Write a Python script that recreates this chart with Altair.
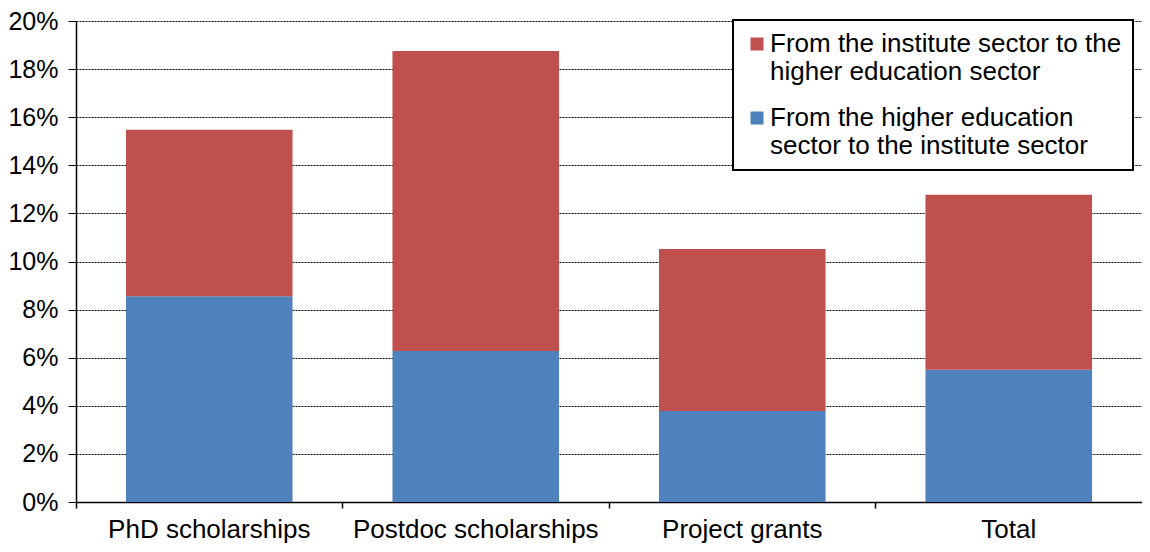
import altair as alt
import pandas as pd

categories = ["PhD scholarships", "Postdoc scholarships", "Project grants", "Total"]
series = [
    "From the institute sector to the higher education sector",
    "From the higher education sector to the institute sector",
]
# percent values
higher_to_institute = [8.55, 6.28, 3.78, 5.50]
institute_to_higher = [6.93, 12.47, 6.74, 7.28]
y_ticks = [0, 0.02, 0.04, 0.06, 0.08, 0.10, 0.12, 0.14, 0.16, 0.18, 0.20]
colors = ["#C0504D", "#4F81BD"]

rows = []
for c, b, r in zip(categories, higher_to_institute, institute_to_higher):
    rows.append({"category": c, "series": series[1], "value": b / 100, "order": 0})
    rows.append({"category": c, "series": series[0], "value": r / 100, "order": 1})
df = pd.DataFrame(rows)

FONT = "Liberation Sans"

label_expr = (
    "datum.label == '" + series[0] + "' ? ['From the institute sector to the', 'higher education sector']"
    " : ['From the higher education', 'sector to the institute sector']"
)

chart = (
    alt.Chart(df)
    .mark_bar()
    .encode(
        x=alt.X(
            "category:N",
            sort=categories,
            title=None,
            scale=alt.Scale(paddingInner=0.375, paddingOuter=0.1875),
            axis=alt.Axis(
                labelAngle=0,
                labelFont=FONT,
                labelFontSize=26,
                labelColor="#000000",
                labelLimit=500,
                labelPadding=8,
                tickSize=6,
                tickColor="#000000",
                tickWidth=1.5,
                domainColor="#000000",
                domainWidth=1.5,
                bandPosition=-0.3,
                grid=False,
            ),
        ),
        y=alt.Y(
            "value:Q",
            stack="zero",
            title=None,
            scale=alt.Scale(domain=[0, 0.2], nice=False),
            axis=alt.Axis(
                values=y_ticks,
                format=".0%",
                labelFont=FONT,
                labelFontSize=25,
                labelColor="#000000",
                labelPadding=10,
                tickSize=8,
                tickColor="#000000",
                domainColor="#000000",
                domainWidth=1.5,
                grid=True,
                gridColor="#000000",
                gridDash=[2, 1],
                gridWidth=1,
            ),
        ),
        color=alt.Color(
            "series:N",
            scale=alt.Scale(domain=series, range=colors),
            legend=alt.Legend(
                title=None,
                orient="none",
                legendX=657,
                legendY=-1,
                labelExpr=label_expr,
                labelFont=FONT,
                labelFontSize=26,
                labelColor="#000000",
                labelLimit=600,
                labelOffset=0,
                symbolType="square",
                symbolSize=169,
                symbolStrokeWidth=0,
                symbolOpacity=1,
                rowPadding=20,
                padding=11,
                strokeColor="#000000",
                fillColor="#ffffff",
            ),
        ),
        order=alt.Order("order:Q"),
    )
    .properties(
        width=1066,
        height=481,
        autosize=alt.AutoSizeParams(type="none"),
        padding={"left": 68, "top": 13, "right": 0, "bottom": 42},
    )
    .configure_view(stroke=None)
    .configure_legend(strokeWidth=2)
)

chart.save("out.html", embed_options={"renderer": "svg", "actions": False})
